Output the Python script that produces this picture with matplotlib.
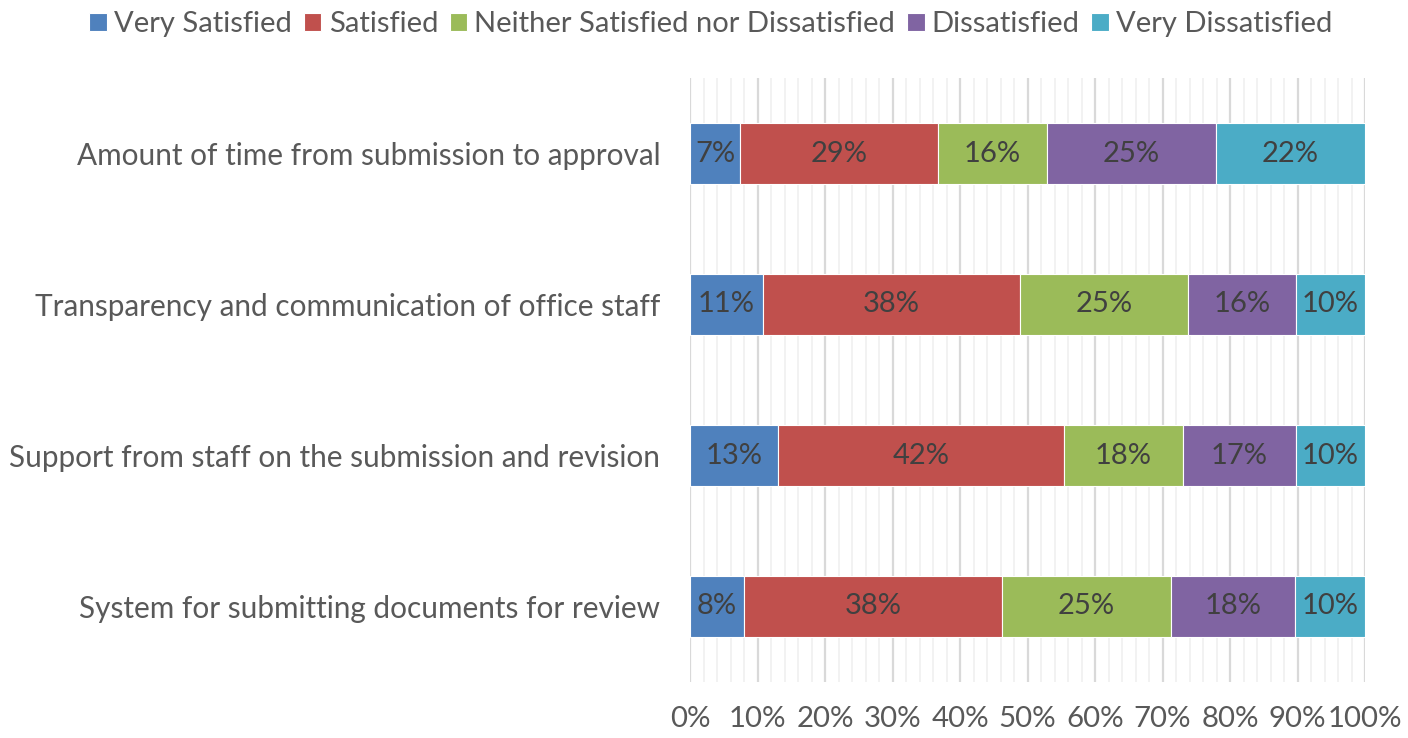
import matplotlib
matplotlib.use("Agg")
import matplotlib.pyplot as plt
import numpy as np
from matplotlib.ticker import MultipleLocator, PercentFormatter

categories = ["Amount of time from submission to approval",
              "Transparency and communication of office staff",
              "Support from staff on the submission and revision",
              "System for submitting documents for review"]
series = ["Very Satisfied", "Satisfied", "Neither Satisfied nor Dissatisfied",
          "Dissatisfied", "Very Dissatisfied"]
very_satisfied = [7.4, 10.8, 13.0, 8.0]
satisfied = [29.3, 38.1, 42.4, 38.2]
neither = [16.2, 24.9, 17.6, 25.1]
dissatisfied = [25.0, 16.0, 16.8, 18.3]
very_dissatisfied = [22.1, 10.2, 10.2, 10.4]
labels = [[7, 11, 13, 8], [29, 38, 42, 38], [16, 25, 18, 25],
          [25, 16, 17, 18], [22, 10, 10, 10]]
colors = ["#4F81BD", "#C0504D", "#9BBB59", "#8064A2", "#4BACC6"]

plt.rcParams['font.family'] = ['Lato', 'DejaVu Sans']

data = np.array([very_satisfied, satisfied, neither, dissatisfied, very_dissatisfied])
data = data / data.sum(axis=0) * 100

fig = plt.figure(figsize=(14.08, 7.38), dpi=100)
ax = fig.add_axes([690/1408, 1 - 682/738, 675/1408, 604/738])
y = np.arange(len(categories))
left = np.zeros(len(categories))
for i, s in enumerate(series):
    bars = ax.barh(y, data[i], left=left, height=0.4, color=colors[i],
                   edgecolor="white", linewidth=0.8, label=s, zorder=3)
    for j, b in enumerate(bars):
        ax.text(left[j] + data[i][j] / 2, y[j], f"{labels[i][j]}%",
                ha="center", va="center", fontsize=21, color="#404040", zorder=4)
    left += data[i]

ax.set_xlim(0, 100)
ax.set_ylim(len(categories) - 0.5, -0.5)
ax.set_yticks(y)
ax.set_yticklabels(categories, fontsize=21.4, color="#595959")
ax.xaxis.set_major_locator(MultipleLocator(10))
ax.xaxis.set_minor_locator(MultipleLocator(2))
ax.xaxis.set_major_formatter(PercentFormatter(decimals=0))
ax.tick_params(axis="x", labelsize=21.2, labelcolor="#595959", length=0, which="both", pad=17)
ax.tick_params(axis="y", length=0, pad=21.5)
ax.grid(axis="x", which="major", color="#D9D9D9", linewidth=1.6, zorder=0)
ax.grid(axis="x", which="minor", color="#F0F0F0", linewidth=1.2, zorder=0)
for sp in ax.spines.values():
    sp.set_visible(False)

handles, lbls = ax.get_legend_handles_labels()
fig.legend(handles, lbls, loc="upper center", bbox_to_anchor=(0.505, 1.02), ncol=5,
           frameon=False, fontsize=21, handlelength=0.6, handleheight=0.6,
           handletextpad=0.25, columnspacing=0.4, labelcolor="#595959")

fig.savefig("out.png", dpi=100)
